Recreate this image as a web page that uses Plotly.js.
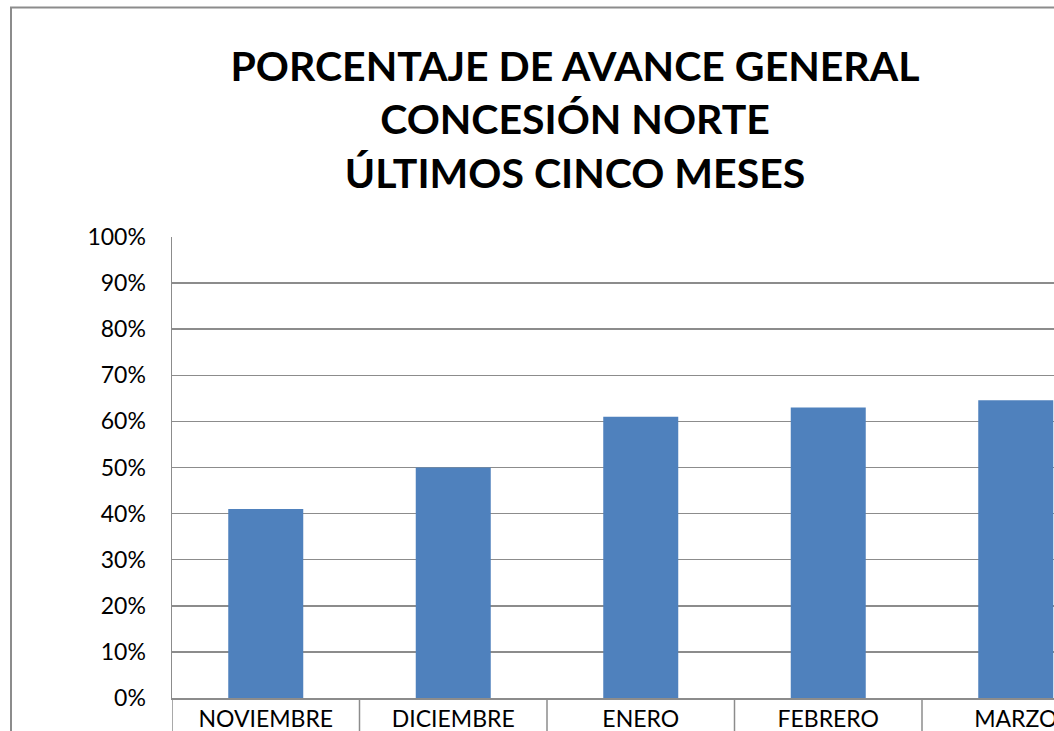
<!DOCTYPE html>
<html>
<head>
<meta charset="utf-8">
<script src="https://cdn.plot.ly/plotly-3.0.1.min.js"></script>
<style>
html,body{margin:0;padding:0;overflow:hidden;background:#fff;}
#chart{width:1054px;height:731px;}
</style>
</head>
<body>
<div id="chart"></div>
<script>
const months = ["NOVIEMBRE", "DICIEMBRE", "ENERO", "FEBRERO", "MARZO"];
const avance = [0.41, 0.50, 0.61, 0.63, 0.646];
const yTicks = [0, 0.1, 0.2, 0.3, 0.4, 0.5, 0.6, 0.7, 0.8, 0.9, 1.0];
const yTickText = ["0%", "10%", "20%", "30%", "40%", "50%", "60%", "70%", "80%", "90%", "100%"];
const titleLines = ["PORCENTAJE DE AVANCE GENERAL", "CONCESIÓN NORTE", "ÚLTIMOS CINCO MESES"];

const W = 1054, H = 731;
const mL = 172, mT = 237, mB = 33, mR = 0;
const plotW = W - mL - mR, plotH = H - mT - mB;
const catW = 187.5; // px per category
const xMax = -0.5 + plotW / catW;

const font = "Lato, 'Open Sans', sans-serif";

const shapes = [];
// category dividers below the axis
for (let i = 0; i < months.length; i++) {
  shapes.push({type: "line", xref: "x", yref: "paper", x0: i - 0.5, x1: i - 0.5, y0: 0, y1: -0.12,
    line: {color: "#8c8c8c", width: 1.5}});
}
// outer chart border
shapes.push({type: "rect", xref: "paper", yref: "paper",
  x0: (11 - mL) / plotW, x1: 1.2, y0: -0.3, y1: (H - mB - 7.5) / plotH,
  line: {color: "#8c8c8c", width: 2}, fillcolor: "rgba(0,0,0,0)"});

const trace = {
  type: "bar",
  x: months,
  y: avance,
  marker: {color: "#4f81bd", line: {color: "#4f81bd", width: 0}},
  width: 0.4,
  hoverinfo: "x+y"
};

const layout = {
  width: W, height: H,
  margin: {l: mL, r: mR, t: mT, b: mB, pad: 0},
  paper_bgcolor: "#ffffff",
  plot_bgcolor: "#ffffff",
  showlegend: false,
  title: {
    text: titleLines.join("<br>"),
    font: {family: font, size: 41, color: "#000000", weight: "bold"},
    xref: "paper", x: (575 - mL) / plotW, xanchor: "center",
    yref: "container", y: 1 - 81 / H, yanchor: "middle"
  },
  xaxis: {
    type: "category",
    range: [-0.5, xMax],
    showgrid: false,
    showline: true, linecolor: "#8c8c8c", linewidth: 1.5,
    ticks: "", tickfont: {family: font, size: 23, color: "#000000"},
    ticklabelstandoff: 0,
    fixedrange: true
  },
  yaxis: {
    range: [0, 1],
    tickvals: yTicks, ticktext: yTickText,
    showgrid: true, gridcolor: "#8c8c8c", gridwidth: 1.5,
    showline: true, linecolor: "#8c8c8c", linewidth: 1.5,
    zeroline: false,
    ticks: "", ticklabelstandoff: 20,
    tickfont: {family: font, size: 23, color: "#000000"},
    fixedrange: true
  },
  shapes: shapes
};

Plotly.newPlot("chart", [trace], layout, {displayModeBar: false, staticPlot: true});
</script>
</body>
</html>
